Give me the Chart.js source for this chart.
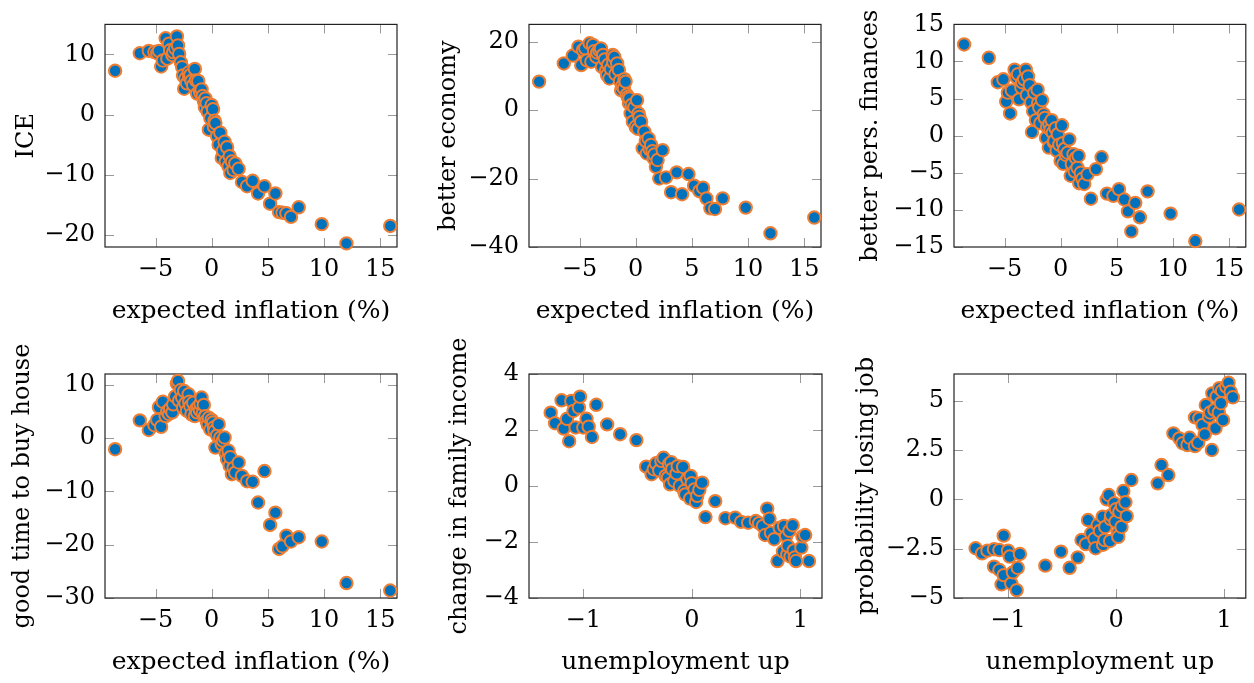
<!DOCTYPE html>
<html>
<head>
<meta charset="utf-8">
<title>Sentiment vs expectations</title>
<script src="https://cdn.jsdelivr.net/npm/chart.js@4.4.0/dist/chart.umd.min.js"></script>
<style>
  body { margin: 0; background: #fff; }
  #wrap { position: relative; width: 1254px; height: 683px; overflow: hidden; }
  #wrap canvas { position: absolute; }
</style>
</head>
<body>
<div id="wrap">
  <canvas id="c1"></canvas>
  <canvas id="c2"></canvas>
  <canvas id="c3"></canvas>
  <canvas id="c4"></canvas>
  <canvas id="c5"></canvas>
  <canvas id="c6"></canvas>
</div>
<script>
// Shared x for the four top/left panels: expected inflation (%)
const inflation = [-8.6, -6.4, -5.6, -5.1, -4.85, -4.7, -4.5, -4.35, -4.1, -3.95,
  -3.8, -3.7, -3.5, -3.43, -3.25, -3.1, -3.0, -2.9, -2.75, -2.63,
  -2.55, -2.45, -2.34, -2.2, -2.05, -2.0, -1.9, -1.8, -1.65, -1.5,
  -1.4, -1.3, -1.2, -1.05, -1.0, -0.9, -0.8, -0.7, -0.6, -0.56,
  -0.45, -0.35, -0.25, -0.12, 0.0, 0.12, 0.2, 0.25, 0.33, 0.48,
  0.62, 0.77, 0.9, 1.0, 1.15, 1.25, 1.37, 1.5, 1.6, 1.66,
  1.8, 1.95, 2.1, 2.4, 2.7, 3.15, 3.65, 4.13, 4.7, 5.2,
  5.67, 6.0, 6.3, 6.65, 7.06, 7.75, 9.8, 12.0, 15.9];

const ice = [7.3, 10.2, 10.6, 10.4, 10.2, 10.6, 8.0, 9.0, 12.7, 9.3,
  11.8, 10.7, 9.9, 10.4, 11.0, 13.0, 11.5, 10.1, 8.7, 7.9,
  6.5, 4.3, 6.0, 5.2, 7.0, 6.3, 6.6, 5.6, 4.9, 7.6,
  5.7, 3.5, 5.6, 4.0, 3.6, 4.2, 3.1, 2.3, 1.2, 2.7,
  1.9, 0.5, -2.5, -0.6, 1.6, 0.9, -2.0, -1.0, -1.4, -3.6,
  -5.0, -3.0, -7.2, -6.0, -4.5, -7.8, -5.4, -8.6, -6.9, -9.7,
  -7.8, -9.2, -8.1, -9.0, -11.2, -11.9, -11.0, -13.1, -11.9, -14.8,
  -13.1, -16.2, -16.3, -16.4, -17.0, -15.4, -18.2, -21.4, -18.5];

const economy = [8.3, 13.6, 15.9, 18.5, 13.1, 17.5, 18.0, 14.5, 19.5, 14.1,
  19.0, 17.2, 15.5, 16.8, 17.5, 18.0, 12.6, 16.1, 14.8, 11.5,
  10.2, 13.2, 9.2, 12.0, 16.1, 14.0, 15.5, 10.5, 13.6, 11.7,
  8.5, 5.8, 7.0, 6.3, 9.0, 8.3, 4.5, 3.8, 2.0, 3.4,
  -1.0, 1.5, -3.4, 0.8, -4.9, 2.9, -5.5, -1.0, -2.0, -3.4,
  -11.2, -6.3, -9.0, -12.7, -8.3, -11.5, -10.2, -12.0, -14.1, -13.0,
  -16.6, -14.6, -20.0, -11.7, -19.7, -24.0, -18.2, -24.6, -18.7, -22.1,
  -23.7, -22.7, -25.8, -28.7, -28.9, -25.8, -28.5, -36.0, -31.4];

const finances = [12.3, 10.5, 7.2, 7.6, 4.6, 5.8, 3.0, 6.1, 8.9, 7.9,
  8.3, 4.9, 6.5, 7.2, 7.6, 8.9, 5.5, 8.0, 6.8, 4.5,
  0.5, 3.3, 5.8, 2.1, 6.2, 4.4, 3.8, 1.7, 4.8, 2.9,
  2.4, -0.3, 1.2, -1.6, 1.6, 0.8, 2.1, 0.4, -0.9, -0.7,
  1.0, -2.0, 0.2, -1.2, -3.4, 1.4, -1.0, -3.8, -1.8, -2.6,
  -2.3, -0.5, -5.4, -3.8, -2.5, -4.8, -3.0, -4.3, -2.7, -6.4,
  -5.0, -5.8, -6.5, -5.2, -8.5, -4.5, -2.9, -7.8, -8.1, -7.2,
  -8.6, -10.2, -12.9, -9.05, -11.0, -7.5, -10.5, -14.2, -9.95];

const house = [-2.1, 3.3, 1.5, 2.4, 3.4, 5.8, 2.1, 6.8, 4.1, 5.0,
  4.5, 5.5, 4.8, 6.3, 7.8, 10.2, 10.7, 7.0, 9.0, 7.6,
  5.7, 8.8, 6.5, 5.1, 8.2, 6.8, 6.0, 4.4, 6.6, 4.1,
  5.4, 4.8, 5.9, 5.2, 6.4, 7.6, 4.6, 6.2, 4.0, 4.1,
  3.2, 2.5, 3.8, 1.6, 3.4, 2.9, 2.0, 1.3, -1.8, 0.5,
  2.6, 0.07, -1.2, -0.5, 0.1, -2.8, -4.0, -2.4, -5.2, -3.6,
  -6.8, -5.6, -6.5, -4.6, -7.1, -8.1, -8.2, -12.1, -6.2, -16.3,
  -14.0, -20.8, -20.3, -18.3, -19.4, -18.6, -19.4, -27.2, -28.6];

// Unemployment-up panels
const unempIncome = [-1.30, -1.26, -1.20, -1.18, -1.15, -1.13, -1.11, -1.09, -1.07, -1.04,
  -1.03, -1.00, -0.97, -0.95, -0.92, -0.88, -0.78, -0.66, -0.51, -0.42,
  -0.37, -0.35, -0.33, -0.30, -0.28, -0.26, -0.24, -0.22, -0.21, -0.20,
  -0.19, -0.18, -0.16, -0.14, -0.13, -0.11, -0.08, -0.07, -0.06, -0.04,
  -0.015, -0.01, 0.0, 0.025, 0.04, 0.05, 0.07, 0.096, 0.126, 0.216,
  0.31, 0.40, 0.455, 0.52, 0.59, 0.62, 0.655, 0.676, 0.695, 0.716,
  0.73, 0.76, 0.79, 0.81, 0.84, 0.85, 0.87, 0.88, 0.885, 0.90,
  0.91, 0.93, 0.94, 0.95, 0.96, 1.01, 1.02, 1.045, 1.08];

const incomeChange = [2.62, 2.24, 3.06, 2.05, 2.4, 1.6, 3.04, 2.68, 2.09, 2.8,
  3.19, 2.09, 2.4, 2.12, 1.75, 2.9, 2.2, 1.85, 1.64, 0.69,
  0.42, 0.6, 0.81, 0.55, 0.9, 1.01, 0.36, 0.3, 0.78, 0.06,
  0.85, 0.6, 0.18, 0.45, 0.71, 0.0, 0.68, -0.18, -0.3, 0.24,
  -0.45, 0.36, 0.1, -0.12, -0.57, -0.35, -0.14, 0.12, -1.11, -0.54,
  -1.15, -1.13, -1.28, -1.31, -1.25, -1.33, -1.43, -1.75, -0.81, -1.17,
  -1.67, -1.9, -2.68, -1.49, -2.34, -1.43, -1.79, -2.45, -2.14, -1.6,
  -2.52, -1.4, -2.3, -2.55, -2.68, -2.2, -1.8, -1.75, -2.68];

const unempJob = [-1.30, -1.24, -1.19, -1.13, -1.13, -1.08, -1.08, -1.06, -1.04, -1.04,
  -1.00, -0.985, -0.97, -0.955, -0.92, -0.91, -0.89, -0.655, -0.51, -0.43,
  -0.355, -0.32, -0.28, -0.26, -0.23, -0.20, -0.19, -0.17, -0.15, -0.124,
  -0.12, -0.108, -0.10, -0.087, -0.068, -0.055, -0.05, -0.046, -0.016, -0.006,
  0.0, 0.015, 0.02, 0.03, 0.05, 0.055, 0.067, 0.086, 0.098, 0.141,
  0.385, 0.42, 0.483, 0.53, 0.585, 0.615, 0.66, 0.68, 0.73, 0.73,
  0.76, 0.77, 0.80, 0.82, 0.83, 0.86, 0.87, 0.886, 0.89, 0.91,
  0.92, 0.93, 0.95, 0.955, 0.97, 0.98, 0.99, 1.02, 1.04, 1.06, 1.08];

const jobLoss = [-2.48, -2.74, -2.6, -2.53, -3.41, -2.57, -3.58, -4.31, -1.84, -3.84,
  -2.6, -2.9, -4.26, -3.7, -4.6, -3.47, -2.77, -3.36, -2.65, -3.47,
  -2.94, -2.06, -2.27, -1.05, -1.72, -2.0, -2.48, -1.3, -1.6, -0.88,
  -2.3, -2.06, -1.4, 0.0, 0.22, -2.11, -1.0, -0.8, -0.2, -1.13,
  -0.5, -1.72, -1.9, -0.63, -1.4, -0.34, 0.42, -0.15, -0.85, 0.98,
  0.81, 1.74, 1.23, 3.34, 3.09, 2.84, 2.75, 3.12, 2.7, 4.15,
  2.87, 4.1, 3.77, 3.29, 4.78, 4.19, 4.4, 2.5, 5.37, 4.53,
  3.6, 5.2, 4.4, 5.63, 4.87, 5.5, 4.02, 5.71, 5.91, 5.45, 5.17];

// Tick labels
const inflationTicks = [-5, 0, 5, 10, 15];
const iceTicks = [-20, -10, 0, 10];
const economyTicks = [-40, -20, 0, 20];
const financesTicks = [-15, -10, -5, 0, 5, 10, 15];
const houseTicks = [-30, -20, -10, 0, 10];
const unempTicks = [-1, 0, 1];
const incomeTicks = [-4, -2, 0, 2, 4];
const jobTicks = [-5, -2.5, 0, 2.5, 5];

const BLUE = '#0072BD';
const ORANGE = '#EF7E32';
const TICK_FONT = { family: '"DejaVu Serif", serif', size: 24 };
const X_TITLE_FONT = { family: '"DejaVu Serif", serif', size: 25 };
const Y_TITLE_FONT = { family: '"DejaVu Serif", serif', size: 24 };
const TICK_LEN = 9;

// page layout: canvas rect [x, y, w, h], plot box [left, top, right, bottom], title centres
const panels = [
  { id: 'c1', xs: inflation, ys: ice, xTicks: inflationTicks, yTicks: iceTicks,
    xr: [-9.5, 16.5], yr: [-22, 15], xLabel: 'expected inflation (%)', yLabel: 'ICE',
    canvas: [0, 0, 418, 340], box: [105, 23, 397, 247], yTitleX: 27, xTitleY: 311 },
  { id: 'c2', xs: inflation, ys: economy, xTicks: inflationTicks, yTicks: economyTicks,
    xr: [-9.5, 16.5], yr: [-40, 25], xLabel: 'expected inflation (%)', yLabel: 'better economy',
    canvas: [418, 0, 418, 340], box: [529, 23, 821, 247], yTitleX: 449, xTitleY: 311 },
  { id: 'c3', xs: inflation, ys: finances, xTicks: inflationTicks, yTicks: financesTicks,
    xr: [-9.5, 16.5], yr: [-15, 15], xLabel: 'expected inflation (%)', yLabel: 'better pers. finances',
    canvas: [836, 0, 418, 340], box: [954, 23, 1247, 247], yTitleX: 871, xTitleY: 311 },
  { id: 'c4', xs: inflation, ys: house, xTicks: inflationTicks, yTicks: houseTicks,
    xr: [-9.5, 16.5], yr: [-30, 12], xLabel: 'expected inflation (%)', yLabel: 'good time to buy house',
    canvas: [0, 320, 418, 363], box: [105, 374, 397, 598], yTitleX: 23, xTitleY: 662 },
  { id: 'c5', xs: unempIncome, ys: incomeChange, xTicks: unempTicks, yTicks: incomeTicks,
    xr: [-1.5, 1.2], yr: [-4, 4], xLabel: 'unemployment up', yLabel: 'change in family income',
    canvas: [418, 320, 418, 363], box: [529, 374, 822, 598], yTitleX: 460, xTitleY: 662 },
  { id: 'c6', xs: unempJob, ys: jobLoss, xTicks: unempTicks, yTicks: jobTicks,
    xr: [-1.5, 1.2], yr: [-5, 6.35], xLabel: 'unemployment up', yLabel: 'probability losing job',
    canvas: [836, 320, 418, 363], box: [954, 374, 1247, 598], yTitleX: 867, xTitleY: 662 }
];

// pgfplots-style frame with inward ticks on all four sides
const frameTicks = {
  id: 'frameTicks',
  beforeDatasetsDraw(chart) {
    const { ctx, chartArea: a, scales: { x, y } } = chart;
    ctx.save();
    ctx.lineWidth = 1;
    ctx.strokeStyle = '#9a9a9a';
    ctx.beginPath();
    x.ticks.forEach(t => {
      const px = Math.round(x.getPixelForValue(t.value)) + 0.5;
      ctx.moveTo(px, a.top); ctx.lineTo(px, a.top + TICK_LEN);
      ctx.moveTo(px, a.bottom); ctx.lineTo(px, a.bottom - TICK_LEN);
    });
    y.ticks.forEach(t => {
      const py = Math.round(y.getPixelForValue(t.value)) + 0.5;
      ctx.moveTo(a.left, py); ctx.lineTo(a.left + TICK_LEN, py);
      ctx.moveTo(a.right, py); ctx.lineTo(a.right - TICK_LEN, py);
    });
    ctx.stroke();
    ctx.strokeStyle = '#222';
    ctx.lineWidth = 1.2;
    ctx.strokeRect(a.left, a.top, a.right - a.left, a.bottom - a.top);
    ctx.restore();
  }
};

const fmt = v => String(v).replace('-', '\u2212');

function makeChart(p) {
  const [cx, cy, cw, ch] = p.canvas;
  const [bl, bt, br, bb] = p.box;
  const el = document.getElementById(p.id);
  el.width = cw; el.height = ch;
  el.style.left = cx + 'px'; el.style.top = cy + 'px';

  new Chart(el, {
    type: 'scatter',
    data: {
      datasets: [{
        data: p.xs.map((x, i) => ({ x, y: p.ys[i] })),
        backgroundColor: BLUE,
        borderColor: ORANGE,
        borderWidth: 2,
        pointRadius: 6.2,
        pointHoverRadius: 6.2,
        clip: false
      }]
    },
    options: {
      responsive: false,
      animation: false,
      layout: { padding: { left: 0, bottom: 0, top: bt - cy, right: cx + cw - br } },
      plugins: { legend: { display: false }, tooltip: { enabled: false } },
      scales: {
        x: {
          type: 'linear', min: p.xr[0], max: p.xr[1],
          grid: { display: false, drawTicks: false },
          border: { display: false },
          afterBuildTicks: s => { s.ticks = p.xTicks.map(v => ({ value: v })); },
          afterFit: s => { s.height = cy + ch - bb; },
          ticks: { font: TICK_FONT, color: '#000', padding: 8, maxRotation: 0, callback: fmt },
          title: { display: true, text: p.xLabel, font: X_TITLE_FONT, color: '#000',
                   padding: { top: 0, bottom: cy + ch - p.xTitleY - X_TITLE_FONT.size * 0.6 } }
        },
        y: {
          type: 'linear', min: p.yr[0], max: p.yr[1],
          grid: { display: false, drawTicks: false },
          border: { display: false },
          afterBuildTicks: s => { s.ticks = p.yTicks.map(v => ({ value: v })); },
          afterFit: s => { s.width = bl - cx; },
          ticks: { font: TICK_FONT, color: '#000', padding: 10, callback: fmt },
          title: { display: true, text: p.yLabel, font: Y_TITLE_FONT, color: '#000',
                   padding: { top: p.yTitleX - cx - Y_TITLE_FONT.size * 0.6, bottom: 0 } }
        }
      }
    },
    plugins: [frameTicks]
  });
}

panels.forEach(makeChart);
</script>
</body>
</html>
